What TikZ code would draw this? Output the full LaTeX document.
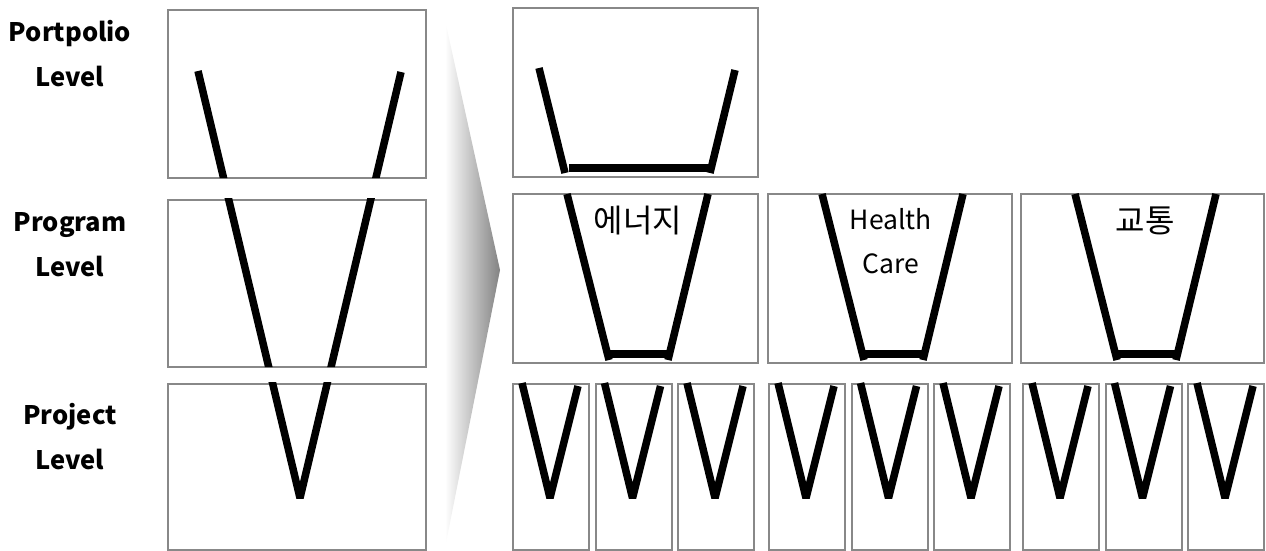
\documentclass[tikz,border=0pt]{standalone}
\usepackage{fontspec}
\setmainfont{Noto Sans CJK KR}
\usetikzlibrary{positioning, calc}
\definecolor{boxgray}{RGB}{136,136,136}
\definecolor{fadegray}{RGB}{130,130,130}

\begin{document}
\begin{tikzpicture}[
    x=1pt, y=-1pt,
    frame/.style={rectangle, draw=boxgray, line width=2pt, inner sep=0pt, anchor=north west},
    big/.style={frame, minimum width=258pt, minimum height=168pt},
    wide/.style={frame, minimum width=245pt, minimum height=169pt},
    slim/.style={frame, minimum width=76pt, minimum height=166pt},
    level/.style={font=\fontsize{25.5}{45}\selectfont\bfseries, align=center, inner sep=0pt},
    sector/.style={font=\fontsize{26.5}{44}\selectfont, align=center, inner sep=0pt},
    hangul/.style={sector, font=\fontsize{32}{44}\selectfont},
    vline/.style={line width=7.5pt, line join=bevel}
]
    \useasboundingbox (0,0) rectangle (1266,551);

    % left column
    \node[big] (port) at (167,9) {};
    \node[big, minimum height=167pt] (prog) at (167,199) {};
    \node[big, minimum height=166pt] (proj) at (167,383) {};

    \begin{scope}
        \clip (166,8) rectangle (426,178) (166,198) rectangle (426,367) (166,382) rectangle (426,551);
        \draw[vline] (198,71) -- (300,498) -- (401,72);
    \end{scope}

    % shaded chevron
    \shade[left color=white, right color=fadegray] (445,20) -- (500,270) -- (445,548) -- cycle;

    % right side
    \node[wide] (pfall) at (512,7) {};
    \node[wide] (energy) at (512,193) {};
    \node[wide, minimum width=244pt] (health) at (767,193) {};
    \node[wide, minimum width=243pt] (traffic) at (1020,193) {};

    \draw[vline] (539,68) -- (565,173);
    \draw[vline] (735,70) -- (710,173);
    \draw[vline] (569,168) -- (710,168);

    \foreach \x in {512,767,1020} {
        \draw[vline] (\x+55,194) -- (\x+97,360);
        \draw[vline] (\x+196,194) -- (\x+156,360);
        \draw[vline] (\x+97,354) -- (\x+156,354);
    }

    \foreach \g/\gx in {0/512,1/768,2/1022} {
        \foreach \i in {0,1,2} {
            \pgfmathsetmacro{\x}{\gx+82.5*\i}
            \node[slim] (pj\g\i) at (\x,383) {};
            \draw[vline] (\x+10,383) -- (\x+38,498) -- (\x+66,386);
        }
    }

    % labels
    \node[level] (lport) at (70,54) {Portpolio\\Level};
    \node[level] (lprog) at (70,245) {Program\\Level};
    \node[level] (lproj) at (70,437) {Project\\Level};

    \node[hangul] (tenergy) at (638,221) {에너지};
    \node[sector] (thealth) at (891,241) {Health\\Care};
    \node[hangul] (ttraffic) at (1145,221) {교통};

\end{tikzpicture}
\end{document}
